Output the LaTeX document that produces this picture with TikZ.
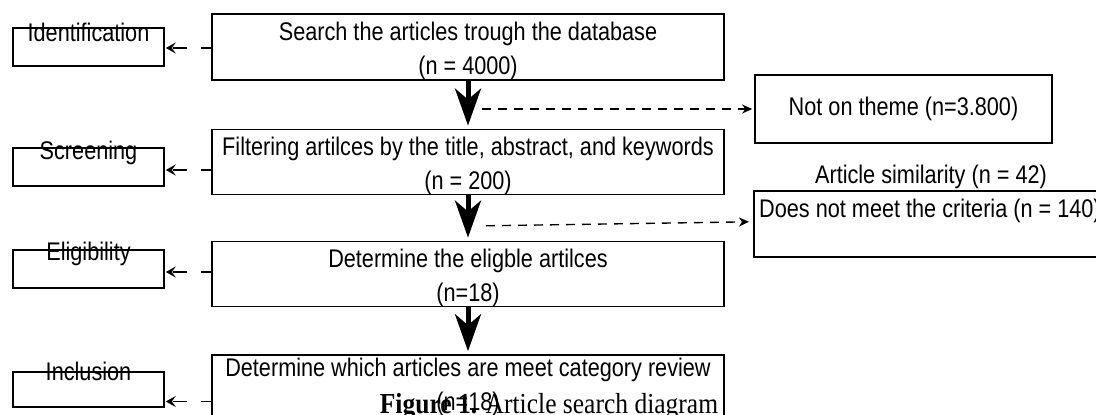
\documentclass[tikz,border=0pt]{standalone}
\usepackage{fontspec}
\setmainfont{Liberation Sans}[FakeStretch=0.85]
\newfontfamily\capfont{Liberation Serif}[FakeStretch=0.88]
\usetikzlibrary{arrows.meta,calc}
\newcommand\topstrut{\rule{0pt}{26pt}}
\begin{document}
\begin{tikzpicture}[x=1pt,y=-1pt,
 every node/.style={font=\fontsize{25.5}{34}\selectfont, inner sep=0pt},
 mainbox/.style={draw, line width=1.6pt, minimum width=512pt, align=center},
 sidebox/.style={draw, line width=1.6pt, minimum width=151pt, minimum height=38pt},
 sidelabel/.style={anchor=base},
 flow/.style={line width=5pt, -{Stealth[length=37pt,width=26pt,inset=11pt]}},
 skipr/.style={line width=1.4pt, dash pattern=on 9pt off 7pt, -{Stealth[length=10pt,width=9pt,inset=3pt]}},
 skipl/.style={line width=1.6pt, dash pattern=on 10pt off 14pt on 14pt off 100pt, -{Stealth[length=10pt,width=11pt,inset=4pt]}},
]
\useasboundingbox (0,0) rectangle (1096,415);
\clip (0,0) rectangle (1096,415);
\fill[white] (0,0) rectangle (1096,415);

% main boxes
\node[mainbox, minimum height=66pt] (m1) at (468,47) {\topstrut Search the articles trough the database\\(n = 4000)};
\node[mainbox, minimum height=62pt] (m2) at (468,162) {\topstrut Filtering artilces by the title, abstract, and keywords\\(n = 200)};
\node[mainbox, minimum height=64pt] (m3) at (468,274) {\topstrut Determine the eligble artilces\\(n=18)};
\node[mainbox, minimum height=64pt] (m4) at (468,387) {Determine which articles are meet category review\\(n=18)};

% side boxes
\node[sidebox] (l1) at (88.5,47) {};
\node[sidebox] (l2) at (88.5,167) {};
\node[sidebox] (l3) at (88.5,269) {};
\node[sidebox, minimum height=35pt] (l4) at (88.5,389.5) {};
\node[sidelabel] (t1) at ($(l1.north)+(0,14)$) {Identification};
\node[sidelabel] (t2) at ($(l2.north)+(0,12)$) {Screening};
\node[sidelabel] (t3) at ($(l3.north)+(0,11)$) {Eligibility};
\node[sidelabel] (t4) at ($(l4.north)+(0,9)$) {Inclusion};

% right boxes
\node[draw, line width=1.6pt, minimum width=297pt, minimum height=68pt] (r1) at (903.5,109) {Not on theme (n=3.800)};
\node[draw, line width=1.6pt, minimum width=400pt, minimum height=66pt, anchor=north west] (r2) at (753,190) {};
\node[anchor=base west] (r2t) at ($(r2.north west)+(6,27)$) {Does not meet the criteria (n = 140)};
\node[anchor=base] (sim) at (931,183) {Article similarity (n = 42)};

% flow arrows
\draw[flow] (m1.south) -- ([yshift=3pt]m2.north);
\draw[flow] (m2.south) -- ([yshift=3pt]m3.north);
\draw[flow] (m3.south) -- ([yshift=3pt]m4.north);

% right dashed arrows
\coordinate (j1) at ($(m1.south |- r1.west)+(14,0)$);
\coordinate (j2) at ($(m2.south |- r2.west)+(18,2)$);
\draw[skipr] (j1) -- ([xshift=-2pt]r1.west);
\draw[skipr] (j2) -- ([xshift=-4pt,yshift=2pt]r2.west);

% left dashed arrows
\draw[skipl] ($(m1.west |- l1.east)+(0,1)$) -- ($(l1.east)+(1,1)$);
\draw[skipl] ($(m2.west |- l2.east)+(0,3)$) -- ($(l2.east)+(1,3)$);
\draw[skipl] ($(m3.west |- l3.east)+(0,3)$) -- ($(l3.east)+(1,3)$);
\draw[skipl] ($(m4.west |- l4.east)+(0,12)$) -- ($(l4.east)+(1,12)$);

% caption
\node[font=\capfont\fontsize{29}{34}\selectfont, anchor=base] (cap) at (549,413) {\textbf{Figure 1.} Article search diagram};
\end{tikzpicture}
\end{document}
